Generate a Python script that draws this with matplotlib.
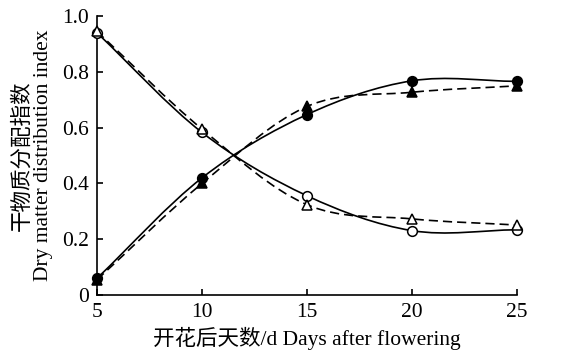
import numpy as np
import matplotlib
matplotlib.use("Agg")
import matplotlib.pyplot as plt
from matplotlib.path import Path
from matplotlib.patches import PathPatch

plt.rcParams['font.family'] = ['Liberation Serif', 'Noto Sans CJK SC']

days = [5, 10, 15, 20, 25]
# filled markers: rising series, open markers: falling series
solid_fill = [0.06, 0.42, 0.647, 0.768, 0.766]
dash_fill = [0.055, 0.40, 0.676, 0.727, 0.750]
solid_open = [0.940, 0.583, 0.356, 0.231, 0.234]
dash_open = [0.945, 0.595, 0.324, 0.273, 0.251]


def smooth_path(x, y):
    # Catmull-Rom curve through the points, written as cubic Bezier segments
    x = np.asarray(x, float)
    y = np.asarray(y, float)
    pts = np.column_stack([x, y])
    ext = np.vstack([pts[0] - (pts[1] - pts[0]), pts, pts[-1] + (pts[-1] - pts[-2])])
    verts = [tuple(pts[0])]
    codes = [Path.MOVETO]
    for i in range(1, len(ext) - 2):
        p0, p1, p2, p3 = ext[i - 1], ext[i], ext[i + 1], ext[i + 2]
        c1 = p1 + (p2 - p0) / 6.0
        c2 = p2 - (p3 - p1) / 6.0
        verts += [tuple(c1), tuple(c2), tuple(p2)]
        codes += [Path.CURVE4] * 3
    return Path(verts, codes)


fig = plt.figure(figsize=(5.69, 3.5), dpi=100)
ax = fig.add_axes([0.1705, 0.157, 0.738, 0.797])

series = [
    (solid_fill, '-', 'o', 'black'),
    (dash_fill, '--', '^', 'black'),
    (solid_open, '-', 'o', 'white'),
    (dash_open, '--', '^', 'white'),
]
for vals, ls, mk, fc in series:
    patch = PathPatch(smooth_path(days, vals), facecolor='none', edgecolor='black',
                      lw=1.2, transform=ax.transData, clip_on=False)
    if ls == '--':
        patch.set_linestyle((0, (5.5, 3)))
    ax.add_patch(patch)
    ax.plot(days, vals, ls='none', marker=mk, ms=7, mfc=fc, mec='black',
            mew=1.1, clip_on=False, zorder=3)

ax.set_xlim(5, 25)
ax.set_ylim(0, 1.0)
ax.set_xticks(days)
ax.set_yticks([0, 0.2, 0.4, 0.6, 0.8, 1.0])
ax.set_yticklabels(['0', '0.2', '0.4', '0.6', '0.8', '1.0'])
ax.spines['top'].set_visible(False)
ax.spines['right'].set_visible(False)
for s in ['left', 'bottom']:
    ax.spines[s].set_linewidth(1.2)
ax.tick_params(direction='in', length=4, width=1.2, labelsize=15.5)
ax.tick_params(axis='y', pad=6)
ax.tick_params(axis='x', pad=6)

ax.set_xlabel('开花后天数/d Days after flowering', fontsize=15.5, labelpad=3)
ax.set_ylabel('干物质分配指数\nDry matter distribution index', fontsize=15.5,
              labelpad=6, linespacing=1.15)

fig.savefig('out.png', dpi=100)
